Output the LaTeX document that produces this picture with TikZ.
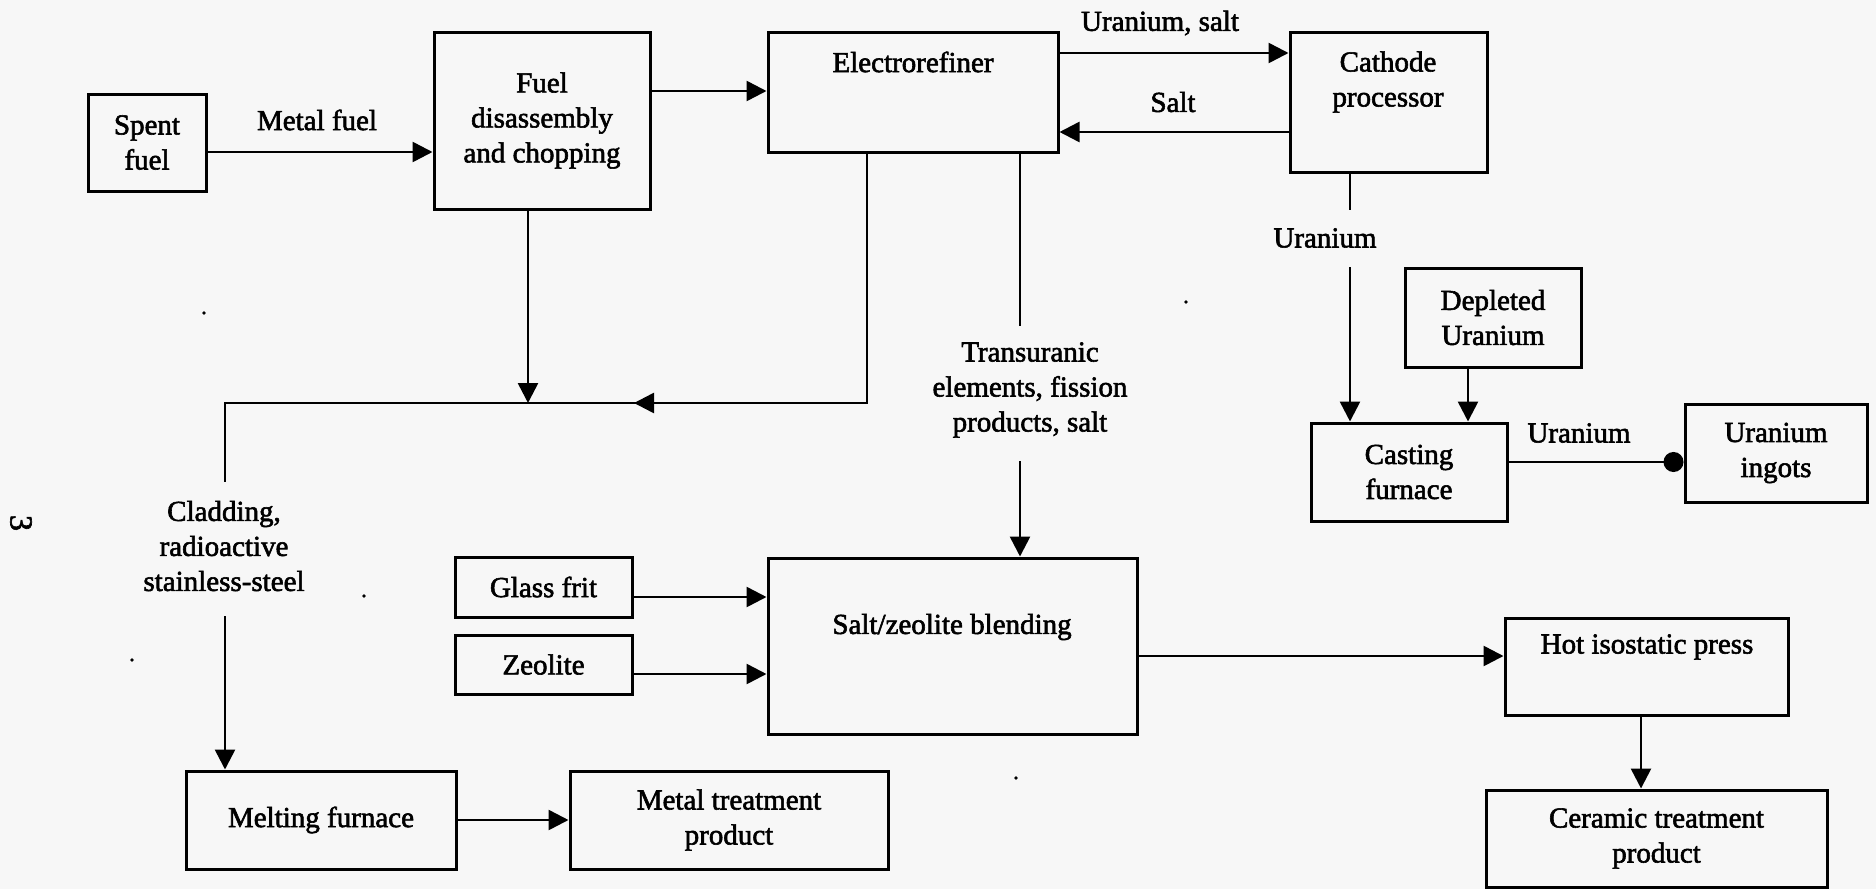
\documentclass[tikz,border=0pt]{standalone}
\usepackage{fontspec}
\setmainfont[FakeBold=2]{Liberation Serif}
\usetikzlibrary{arrows.meta}
\begin{document}
\begin{tikzpicture}[x=1pt,y=-1pt,
  every node/.style={font=\fontsize{29}{35}\selectfont, align=center, inner sep=0pt},
  box/.style={draw, line width=3pt},
  flow/.style={line width=2.6pt},
  arr/.style={flow, -{Triangle[length=20pt,width=20pt]}},
  dotarr/.style={flow, -{Circle[length=20pt]}}]
% page and its bounds
\fill[fill={rgb,255:red,247;green,247;blue,247}] (0,0) rectangle (1876,889);
\useasboundingbox (0,0) rectangle (1876,889);

% process boxes
\node[box, minimum width=118pt, minimum height=97pt]  (sf) at (147,142.5) {Spent\\fuel};
\node[box, minimum width=216pt, minimum height=177pt] (fd) at (542,120.5) {Fuel\\disassembly\\and chopping};
\node[box, minimum width=290pt, minimum height=120pt] (er) at (913,92) {};
\node (ertxt) at (913,62) {Electrorefiner};
\node[box, minimum width=197pt, minimum height=140pt] (cp) at (1388.5,102) {};
\node (cptxt) at (1388,82) {Cathode\\processor};
\node[box, minimum width=176pt, minimum height=99pt]  (du) at (1493,317.5) {Depleted\\Uranium};
\node[box, minimum width=196pt, minimum height=98pt]  (cf) at (1409,472) {Casting\\furnace};
\node[box, minimum width=182pt, minimum height=98pt]  (ui) at (1776,453) {Uranium\\ingots};
\node[box, minimum width=177pt, minimum height=60pt]  (gf) at (543.5,587) {Glass frit};
\node[box, minimum width=177pt, minimum height=59pt]  (ze) at (543.5,664.5) {Zeolite};
\node[box, minimum width=369pt, minimum height=176pt] (sz) at (952.5,646) {};
\node (sztxt) at (952,627) {Salt/zeolite blending};
\node[box, minimum width=283pt, minimum height=97pt]  (hp) at (1646.5,666.5) {};
\node (hptxt) at (1647,647) {Hot isostatic press};
\node[box, minimum width=341pt, minimum height=97pt]  (ct) at (1656.5,838.5) {Ceramic treatment\\product};
\node[box, minimum width=270pt, minimum height=98pt]  (mf) at (321,820) {Melting furnace};
\node[box, minimum width=318pt, minimum height=98pt]  (mt) at (729,820) {Metal treatment\\product};

% flow labels
\node (lmetal) at (317,120) {Metal fuel};
\node (lusalt) at (1160,23) {Uranium, salt};
\node (lsalt) at (1173,102) {Salt};
\node (lu1) at (1325,238) {Uranium};
\node (lu2) at (1579,433) {Uranium};
\node (ltru) at (1030,390) {Transuranic\\elements, fission\\products, salt};
\node (lclad) at (224,546) {Cladding,\\radioactive\\stainless-steel};
\node[rotate=-90, font=\fontsize{32}{35}\selectfont] (pg) at (21,523) {3};

% routing points
\coordinate (ysf) at (0,152);
\coordinate (yfd) at (0,91);
\coordinate (yus) at (0,53);
\coordinate (ys) at (0,132);
\coordinate (jr) at (867,403);
\coordinate (jl) at (225,403);
\coordinate (jd) at (528,403);
\coordinate (jm) at (634,403);
\coordinate (cl1) at (225,482);
\coordinate (cl2) at (225,616);
\coordinate (tr1) at (1020,326);
\coordinate (tr2) at (1020,461);
\coordinate (cu1) at (1350,210);
\coordinate (cu2) at (1350,267);
\coordinate (ycu) at (0,462);
\coordinate (ygf) at (0,597);
\coordinate (yze) at (0,674);
\coordinate (yhp) at (0,656);
\coordinate (xdu) at (1468,0);
\coordinate (xhp) at (1641,0);

% connectors
\draw[arr] (sf.east |- ysf) -- (fd.west |- ysf);
\draw[arr] (fd.east |- yfd) -- (er.west |- yfd);
\draw[arr] (er.east |- yus) -- (cp.west |- yus);
\draw[arr] (cp.west |- ys) -- (er.east |- ys);
\draw[arr] (fd.south -| jd) -- (jd);
\draw[flow] (er.south -| jr) -- (jr) -- (jl) -- (cl1);
\draw[arr] (jr) -- (jm);
\draw[arr] (cl2) -- (mf.north -| cl2);
\draw[flow] (er.south -| tr1) -- (tr1);
\draw[arr] (tr2) -- (sz.north -| tr2);
\draw[flow] (cp.south -| cu1) -- (cu1);
\draw[arr] (cu2) -- (cf.north -| cu2);
\draw[arr] (du.south -| xdu) -- (cf.north -| xdu);
\draw[dotarr] (cf.east |- ycu) -- (ui.west |- ycu);
\draw[arr] (gf.east |- ygf) -- (sz.west |- ygf);
\draw[arr] (ze.east |- yze) -- (sz.west |- yze);
\draw[arr] (sz.east |- yhp) -- (hp.west |- yhp);
\draw[arr] (hp.south -| xhp) -- (ct.north -| xhp);
\draw[arr] (mf) -- (mt);

% specks on the sheet
\foreach \p in {(204,313),(1186,302),(364,596),(132,660),(1016,778)}
  \fill \p circle (1.8pt);
\end{tikzpicture}
\end{document}
